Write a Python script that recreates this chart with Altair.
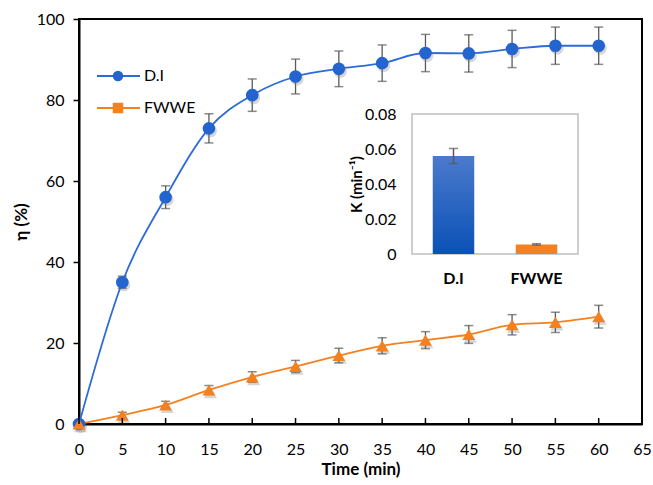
import altair as alt
import pandas as pd

# ---- data ----
time = [0, 5, 10, 15, 20, 25, 30, 35, 40, 45, 50, 55, 60]
di_eta = [0, 35, 56, 73, 81.2, 85.8, 87.7, 89.1, 91.6, 91.5, 92.6, 93.4, 93.4]
di_err = [0.5, 1.5, 2.8, 3.6, 4.0, 4.3, 4.4, 4.5, 4.6, 4.6, 4.6, 4.6, 4.6]
fw_eta = [0, 2.2, 4.7, 8.4, 11.6, 14.2, 16.9, 19.3, 20.7, 22.1, 24.5, 25.1, 26.5]
fw_err = [0.3, 0.7, 0.9, 1.1, 1.3, 1.5, 1.8, 2.0, 2.1, 2.2, 2.5, 2.5, 2.8]
series = ["D.I", "FWWE"]
x_ticks = [0, 5, 10, 15, 20, 25, 30, 35, 40, 45, 50, 55, 60, 65]
y_ticks = [0, 20, 40, 60, 80, 100]

k_cats = ["D.I", "FWWE"]
k_vals = [0.056, 0.0055]
k_errs = [0.0043, 0.0004]
k_ticks = [0, 0.02, 0.04, 0.06, 0.08]

BLUE = "#2364cf"
BLUE_LINE = "#2d6bd6"
ORANGE = "#f5801f"
ERR = "#5a5a5a"
FONT = "Lato"

rows = []
for s, vals, errs in [(series[0], di_eta, di_err), (series[1], fw_eta, fw_err)]:
    for t, v, e in zip(time, vals, errs):
        rows.append({"t": t, "eta": v, "lo": v - e, "hi": v + e, "series": s})
df = pd.DataFrame(rows)

xscale = alt.Scale(domain=[0, 65], nice=False, zero=True)
yscale = alt.Scale(domain=[0, 100], nice=False)
cscale = alt.Scale(domain=series, range=[BLUE_LINE, ORANGE])

base = alt.Chart(df)
x_enc = alt.X("t:Q", scale=xscale,
              axis=alt.Axis(values=x_ticks, title="Time (min)", ticks=False, tickSize=0,
                            labelFlush=False, labelOverlap=False,
                            labelPadding=17, titlePadding=4, grid=False, orient="bottom"))
y_enc = alt.Y("eta:Q", scale=yscale,
              axis=alt.Axis(values=y_ticks, title="η (%)", tickSize=6, tickWidth=1.5,
                            labelFlush=False,
                            labelPadding=9, titlePadding=6, grid=False, orient="left"))

lines = base.mark_line(interpolate="monotone", strokeWidth=1.8).encode(
    x=x_enc, y=y_enc, color=alt.Color("series:N", scale=cscale, legend=None))

err_rule = base.mark_rule(color=ERR, strokeWidth=1.3).encode(
    x="t:Q", y="lo:Q", y2="hi:Q")
err_top = base.mark_tick(color=ERR, thickness=1.5, size=9, orient="horizontal").encode(
    x="t:Q", y="hi:Q")
err_bot = base.mark_tick(color=ERR, thickness=1.5, size=9, orient="horizontal").encode(
    x="t:Q", y="lo:Q")

shadow_di = base.transform_filter(alt.datum.series == series[0]).mark_point(
    shape="circle", filled=True, size=170, color="#777777", opacity=0.3,
    xOffset=1.5, yOffset=2.5).encode(x="t:Q", y="eta:Q")
shadow_fw = base.transform_filter(alt.datum.series == series[1]).mark_point(
    shape="triangle-up", filled=True, size=170, color="#777777", opacity=0.3,
    xOffset=1.5, yOffset=2.5).encode(x="t:Q", y="eta:Q")
pts_di = base.transform_filter(alt.datum.series == series[0]).mark_point(
    shape="circle", filled=True, size=160, color=BLUE, opacity=1).encode(x="t:Q", y="eta:Q")
pts_fw = base.transform_filter(alt.datum.series == series[1]).mark_point(
    shape="triangle-up", filled=True, size=165, color=ORANGE, opacity=1).encode(x="t:Q", y="eta:Q")

tick_df = pd.DataFrame({"t": x_ticks})
inner_ticks = alt.Chart(tick_df).mark_rule(color="black", strokeWidth=1.5).encode(
    x="t:Q", y=alt.value(399), y2=alt.value(405))

# legend
leg_df = pd.DataFrame({"series": series})
legend_layers = []
leg_colors = [BLUE_LINE, ORANGE]
leg_marker = [BLUE, ORANGE]
leg_shapes = ["circle", "square"]
for i, s in enumerate(series):
    ly = 57 + 32 * i
    d = alt.Chart(leg_df).transform_filter(alt.datum.series == s)
    legend_layers.append(d.mark_rule(color=leg_colors[i], strokeWidth=1.8).encode(
        x=alt.value(18), x2=alt.value(61), y=alt.value(ly)))
    legend_layers.append(d.mark_point(shape=leg_shapes[i], filled=True, size=110,
                                      color=leg_marker[i], opacity=1).encode(
        x=alt.value(39), y=alt.value(ly)))
    legend_layers.append(d.mark_text(align="left", baseline="middle", fontSize=16,
                                     font=FONT, color="black").encode(
        x=alt.value(65), y=alt.value(ly), text="series:N"))

main = alt.layer(lines, err_rule, err_top, err_bot, shadow_di, shadow_fw, pts_di, pts_fw,
                 inner_ticks, *legend_layers)

# ---- inset ----
kdf = pd.DataFrame({"cat": k_cats, "k": k_vals,
                    "lo": [v - e for v, e in zip(k_vals, k_errs)],
                    "hi": [v + e for v, e in zip(k_vals, k_errs)]})
kx = alt.Scale(domain=k_cats, range=[333, 499], paddingInner=0.5, paddingOuter=0.25)
ky = alt.Scale(domain=[0, 0.08], range=[235, 95], nice=False)
kbase = alt.Chart(kdf)

frame = kbase.transform_filter(alt.datum.cat == k_cats[0]).mark_rect(
    fill="white", stroke="#bfbfbf", strokeWidth=1.5).encode(
    x=alt.value(333), x2=alt.value(499), y=alt.value(95), y2=alt.value(235))

kx_enc = alt.X("cat:N", scale=kx, sort=k_cats,
               axis=alt.Axis(orient="bottom", offset=-170, title=None, domain=False, ticks=False,
                             labelAngle=0, labelFontWeight="bold", labelFontSize=16,
                             labelPadding=16, labelColor="black"))
ky_enc = alt.Y("k:Q", scale=ky,
               axis=alt.Axis(orient="left", offset=-333, values=k_ticks, format=".2~f",
                             domain=False, ticks=False, grid=False, labelPadding=16,
                             labelFontSize=16,
                             title="K (min⁻¹)", titlePadding=0, titleFontSize=15))

bar_di = kbase.transform_filter(alt.datum.cat == k_cats[0]).mark_bar(
    color=alt.Gradient(gradient="linear", x1=0, x2=0, y1=0, y2=1,
                       stops=[alt.GradientStop(offset=0, color="#4b7acc"),
                              alt.GradientStop(offset=1, color="#0a51b6")])).encode(
    x=kx_enc, y=ky_enc)
bar_fw = kbase.transform_filter(alt.datum.cat == k_cats[1]).mark_bar(color=ORANGE).encode(
    x="cat:N", y="k:Q")
kerr = kbase.mark_rule(color=ERR, strokeWidth=1.5).encode(x="cat:N", y="lo:Q", y2="hi:Q")
kerr_t = kbase.mark_tick(color=ERR, thickness=1.5, size=9, orient="horizontal").encode(
    x="cat:N", y="hi:Q")
kerr_b = kbase.mark_tick(color=ERR, thickness=1.5, size=9, orient="horizontal").encode(
    x="cat:N", y="lo:Q")

inset = alt.layer(frame, bar_di, bar_fw, kerr, kerr_t, kerr_b)

chart = alt.layer(main, inset).resolve_scale(
    x="independent", y="independent", color="independent"
).properties(
    width=563, height=405,
    autosize=alt.AutoSizeParams(type="none"),
    padding={"left": 79, "top": 19, "right": 11, "bottom": 61},
).configure_view(
    stroke="black", strokeWidth=2
).configure_axis(
    domainColor="black", domainWidth=2, tickColor="black",
    labelFont=FONT, titleFont=FONT, labelFontSize=16, labelColor="black",
    titleFontSize=17, titleFontWeight="bold", titleColor="black",
)

chart.save("out.html", embed_options={"renderer": "svg", "actions": False})
